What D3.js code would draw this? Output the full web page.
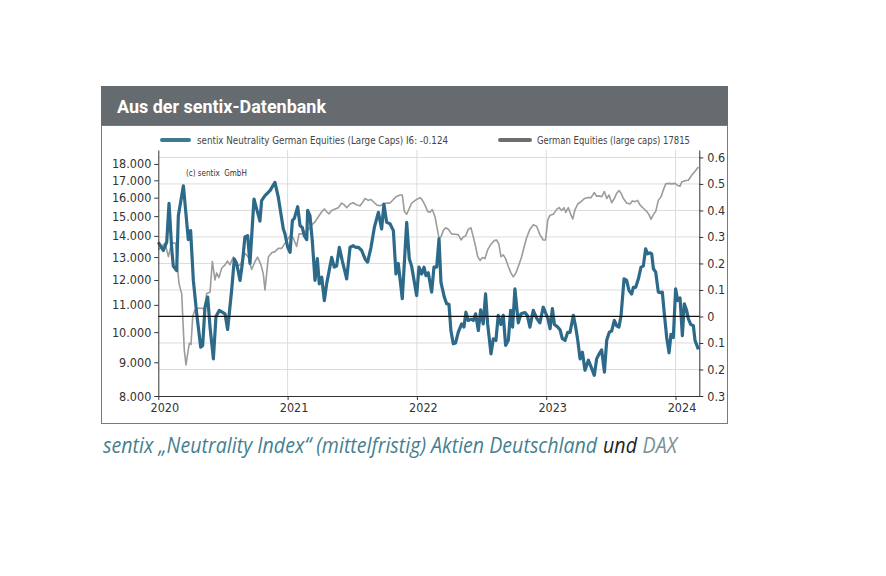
<!DOCTYPE html>
<html><head><meta charset="utf-8">
<script src="https://cdn.jsdelivr.net/npm/d3@7"></script>
<style>html,body{margin:0;padding:0;background:#fff;} svg{display:block}</style>
</head><body><svg id="c" width="886" height="576"></svg>
<script>
// ---------- DATA ----------
const titleText = "Aus der sentix-Datenbank";
const legendLabels = ["sentix Neutrality German Equities (Large Caps) I6: -0.124", "German Equities (large caps) 17815"];
const copyrightText = "(c) sentix  GmbH";
const captionParts = ["sentix \u201ENeutrality Index\u201C (mittelfristig) Aktien Deutschland", "und", "DAX"];
const yearTicks = [2020, 2021, 2022, 2023, 2024];
const leftTicks = [8000, 9000, 10000, 11000, 12000, 13000, 14000, 15000, 16000, 17000, 18000];
const rightTicks = [-0.3, -0.2, -0.1, 0, 0.1, 0.2, 0.3, 0.4, 0.5, 0.6];
const rightTickLabels = ["0.3", "0.2", "0.1", "0", "0.1", "0.2", "0.3", "0.4", "0.5", "0.6"];

// sentix neutrality index (right axis), time in decimal years
const blueT = [2020.000,2020.039,2020.065,2020.083,2020.103,2020.116,2020.142,2020.155,2020.194,2020.219,2020.232,2020.250,2020.271,2020.297,2020.328,2020.343,2020.361,2020.382,2020.400,2020.426,2020.446,2020.472,2020.498,2020.516,2020.536,2020.567,2020.588,2020.606,2020.632,2020.650,2020.670,2020.691,2020.709,2020.740,2020.761,2020.786,2020.799,2020.825,2020.864,2020.902,2020.928,2020.967,2020.980,
2021.001,2021.019,2021.037,2021.052,2021.062,2021.078,2021.096,2021.114,2021.129,2021.148,2021.155,2021.173,2021.191,2021.212,2021.230,2021.245,2021.264,2021.284,2021.302,2021.341,2021.361,2021.379,2021.400,2021.423,2021.457,2021.483,2021.508,2021.526,2021.547,2021.573,2021.599,2021.619,2021.645,2021.671,2021.702,2021.727,2021.745,2021.766,2021.792,2021.818,2021.838,2021.856,2021.887,2021.921,2021.941,2021.959,2021.998,
2022.016,2022.037,2022.055,2022.070,2022.088,2022.114,2022.132,2022.153,2022.171,2022.186,2022.212,2022.230,2022.248,2022.263,2022.281,2022.299,2022.320,2022.346,2022.364,2022.379,2022.397,2022.418,2022.436,2022.454,2022.475,2022.493,2022.513,2022.531,2022.547,2022.573,2022.591,2022.611,2022.629,2022.650,2022.668,2022.686,2022.707,2022.725,2022.740,2022.758,2022.784,2022.805,2022.836,2022.854,2022.874,2022.900,2022.926,2022.951,2022.977,
2023.012,2023.030,2023.048,2023.063,2023.089,2023.107,2023.125,2023.146,2023.166,2023.184,2023.210,2023.228,2023.244,2023.262,2023.280,2023.300,2023.326,2023.347,2023.372,2023.390,2023.411,2023.429,2023.450,2023.468,2023.488,2023.506,2023.527,2023.545,2023.563,2023.579,2023.602,2023.622,2023.640,2023.661,2023.674,2023.692,2023.713,2023.733,2023.751,2023.769,2023.785,2023.803,2023.816,2023.829,2023.847,2023.867,2023.883,2023.898,2023.914,2023.932,2023.950,2023.965,2023.983,
2024.001,2024.017,2024.035,2024.053,2024.068,2024.086,2024.099,2024.117,2024.138,2024.151,2024.177];
const blueV = [0.28,0.249,0.28,0.427,0.26,0.19,0.173,0.38,0.493,0.36,0.29,0.324,0.136,0.011,-0.116,-0.11,0.035,0.073,-0.04,-0.16,0,0.023,0.015,0.01,-0.049,0.098,0.217,0.2,0.136,0.2,0.3,0.305,0.2,0.443,0.405,0.36,0.437,0.456,0.475,0.506,0.45,0.33,0.311,
0.261,0.242,0.362,0.37,0.387,0.414,0.343,0.335,0.305,0.29,0.4,0.38,0.285,0.136,0.218,0.123,0.148,0.06,0.123,0.223,0.186,0.19,0.261,0.21,0.142,0.261,0.267,0.261,0.261,0.249,0.217,0.205,0.261,0.336,0.393,0.33,0.424,0.355,0.35,0.324,0.161,0.2,0.067,0.355,0.218,0.19,0.079,
0.186,0.16,0.186,0.154,0.165,0.092,0.186,0.186,0.293,0.129,0.073,0.048,0.046,-0.053,-0.103,-0.1,-0.059,-0.028,-0.04,0.016,-0.015,-0.01,-0.015,0.01,-0.053,0.025,-0.028,0.085,-0.028,-0.141,-0.084,-0.09,0.004,-0.03,0.004,-0.109,-0.09,0.023,-0.04,0.104,-0.024,0.01,0.015,0.004,-0.04,0.023,-0.006,-0.024,0.035,
-0.006,-0.046,0.03,-0.03,-0.04,-0.05,-0.084,-0.09,-0.06,-0.06,0.004,-0.04,-0.09,-0.16,-0.135,-0.203,-0.165,-0.19,-0.222,-0.16,-0.14,-0.126,-0.21,-0.09,-0.059,-0.055,-0.015,-0.035,-0.04,0.004,0.142,0.136,0.098,0.085,0.11,0.11,0.142,0.186,0.19,0.255,0.236,0.24,0.236,0.18,0.167,0.092,0.09,0.092,0.008,-0.08,-0.137,-0.067,-0.08,
0.104,0.06,0.07,-0.072,0.048,0.023,-0.008,-0.03,-0.035,-0.09,-0.124];

// German equities (DAX), left log axis
const grayT = [2020.000,2020.052,2020.078,2020.103,2020.134,2020.150,2020.160,2020.181,2020.201,2020.214,2020.227,2020.240,2020.253,2020.266,2020.284,2020.310,2020.335,2020.356,2020.374,2020.400,2020.418,2020.438,2020.451,2020.469,2020.490,2020.516,2020.536,2020.554,2020.580,2020.606,2020.632,2020.650,2020.670,2020.696,2020.722,2020.748,2020.768,2020.794,2020.812,2020.825,2020.838,2020.851,2020.877,2020.902,2020.928,2020.954,2020.980,
2021.019,2021.044,2021.070,2021.088,2021.109,2021.135,2021.160,2021.186,2021.212,2021.238,2021.264,2021.284,2021.302,2021.320,2021.341,2021.367,2021.392,2021.418,2021.439,2021.457,2021.483,2021.508,2021.534,2021.560,2021.578,2021.599,2021.624,2021.645,2021.671,2021.689,2021.715,2021.740,2021.766,2021.792,2021.818,2021.843,2021.869,2021.887,2021.903,2021.921,2021.939,2021.959,2021.998,
2022.024,2022.037,2022.062,2022.083,2022.101,2022.119,2022.140,2022.160,2022.171,2022.186,2022.204,2022.222,2022.243,2022.268,2022.294,2022.320,2022.341,2022.359,2022.377,2022.397,2022.418,2022.436,2022.454,2022.470,2022.488,2022.506,2022.526,2022.547,2022.573,2022.598,2022.616,2022.634,2022.650,2022.668,2022.686,2022.707,2022.727,2022.745,2022.766,2022.789,2022.810,2022.830,2022.848,2022.874,2022.900,2022.926,2022.951,2022.977,2022.995,
2023.012,2023.030,2023.055,2023.081,2023.099,2023.120,2023.138,2023.151,2023.171,2023.192,2023.205,2023.223,2023.244,2023.269,2023.295,2023.321,2023.347,2023.372,2023.390,2023.409,2023.429,2023.450,2023.468,2023.486,2023.506,2023.527,2023.545,2023.563,2023.579,2023.597,2023.622,2023.648,2023.666,2023.687,2023.707,2023.725,2023.751,2023.777,2023.795,2023.811,2023.829,2023.847,2023.867,2023.888,2023.906,2023.924,2023.950,2023.970,2023.996,
2024.017,2024.035,2024.048,2024.073,2024.099,2024.125,2024.151,2024.177];
const grayV = [13330,13650,13020,13650,13650,12430,11860,11430,9400,8920,9270,9620,9580,10550,10810,10870,10870,10830,11450,11500,12800,12000,12300,12100,12500,12650,12820,12650,13000,12600,12650,12850,13170,13000,12450,12800,13000,12650,12260,11590,12260,13000,13200,13250,13400,13400,13650,
14000,13900,13490,14100,14100,14210,14300,14550,14700,14970,15230,15380,15230,15120,15300,15380,15450,15700,15600,15450,15650,15720,15600,15550,15720,15950,15850,15900,15720,15600,15550,15650,15700,15700,15900,16070,16150,16150,15250,15100,15380,15700,15900,
16000,15920,15600,15250,15200,15350,14970,14260,13880,13950,14260,14400,14330,14100,14080,14060,13800,13950,14000,14320,14400,13950,13490,13020,12850,12980,12930,13330,13600,13770,13800,13600,13020,13100,12930,12580,12300,12130,12300,12660,13020,13490,13900,14320,14550,14480,14060,13800,13800,
14800,15050,15100,15360,15450,15300,15450,15200,15450,15050,14850,15350,15650,15780,15950,16000,16000,16290,16080,16100,16050,16350,15950,16150,15720,15950,16250,16400,16250,15950,15700,15650,15820,15780,15850,15600,15420,15250,15080,14840,15080,15250,15850,16050,16440,16790,16820,16790,16820,
16700,16650,16900,16980,17000,17300,17550,17815];

// ---------- LAYOUT ----------
const W = 886, H = 576;
const plot = {left: 158.3, right: 699.3, top: 150, bottom: 396};
const FONT = "'Liberation Sans Narrow','DejaVu Sans Condensed',Roboto,sans-serif";
const C = {header: "#656b6e", frame: "#7a7a7a", blue: "#2d6a8a", gray: "#9c9c9c",
           graySw: "#6e6e6e", grid: "#dcdcdc", axis: "#333", text: "#333",
           cap: "#457f8f", capDark: "#222", capGray: "#7b9195"};

const svg = d3.select("#c");
svg.append("rect").attr("width", W).attr("height", H).attr("fill", "#fff");

// header + frame
svg.append("rect").attr("x", 101).attr("y", 86).attr("width", 627).attr("height", 40).attr("fill", C.header);
svg.append("rect").attr("x", 101.5).attr("y", 125.5).attr("width", 626).attr("height", 298)
  .attr("fill", "none").attr("stroke", C.frame).attr("stroke-width", 1);
svg.append("text").attr("x", 117).attr("y", 112.5).text(titleText)
  .attr("font-family", "Roboto,'Open Sans',sans-serif").attr("font-weight", 700)
  .attr("font-size", 18).attr("fill", "#fff")
  .attr("textLength", 209).attr("lengthAdjust", "spacingAndGlyphs");

// scales
const x = d3.scaleLinear().domain([2020, 2024.184]).range([plot.left, plot.right]);
const yL = d3.scaleLog().domain([8000, 18900]).range([plot.bottom, plot.top]);
const yR = d3.scaleLinear().domain([-0.3, 0.628]).range([plot.bottom, plot.top]);

// grid
const g = svg.append("g");
g.selectAll(".hg").data(rightTicks.filter(d => d !== 0 && d !== -0.3)).join("line")
  .attr("x1", plot.left).attr("x2", plot.right)
  .attr("y1", d => yR(d)).attr("y2", d => yR(d))
  .attr("stroke", C.grid).attr("stroke-width", 1);
g.selectAll(".vg").data(yearTicks.slice(1)).join("line")
  .attr("x1", d => x(d)).attr("x2", d => x(d))
  .attr("y1", plot.top).attr("y2", plot.bottom)
  .attr("stroke", C.grid).attr("stroke-width", 1);

// copyright
svg.append("text").attr("x", 186).attr("y", 176).text(copyrightText)
  .attr("font-family", FONT).attr("font-size", 8).attr("fill", C.text).attr("xml:space", "preserve");

// lines
const grayData = grayT.map((t, i) => [t, grayV[i]]);
const blueData = blueT.map((t, i) => [t, blueV[i]]);
svg.append("path").datum(grayData)
  .attr("d", d3.line().x(d => x(d[0])).y(d => yL(d[1])))
  .attr("fill", "none").attr("stroke", C.gray).attr("stroke-width", 1.6).attr("stroke-linejoin", "round");
svg.append("path").datum(blueData)
  .attr("d", d3.line().x(d => x(d[0])).y(d => yR(d[1])))
  .attr("fill", "none").attr("stroke", C.blue).attr("stroke-width", 3.2).attr("stroke-linejoin", "round");

// zero line
svg.append("line").attr("x1", plot.left).attr("x2", plot.right)
  .attr("y1", yR(0)).attr("y2", yR(0)).attr("stroke", "#111").attr("stroke-width", 1.2);

// axes
const de = d3.formatLocale({decimal: ",", thousands: ".", grouping: [3], currency: ["", "\u20AC"]});
function styleAxis(sel) {
  sel.attr("font-family", null).attr("font-size", null);
  sel.selectAll("path,line").attr("stroke", C.axis);
  sel.selectAll("text").attr("font-family", FONT).attr("font-size", 12.5).attr("fill", C.text);
}
svg.append("g").attr("transform", `translate(${plot.left},0)`)
  .call(d3.axisLeft(yL).tickValues(leftTicks).tickFormat(de.format(",")).tickSize(4).tickSizeOuter(0).tickPadding(3))
  .call(styleAxis);
svg.append("g").attr("transform", `translate(${plot.right},0)`)
  .call(d3.axisRight(yR).tickValues(rightTicks).tickFormat((d, i) => rightTickLabels[i]).tickSize(4).tickSizeOuter(0).tickPadding(4))
  .call(styleAxis);
const xa = svg.append("g").attr("transform", `translate(0,${plot.bottom})`)
  .call(d3.axisBottom(x).tickValues(yearTicks).tickFormat(d3.format("d")).tickSize(4).tickSizeOuter(0).tickPadding(3))
  .call(styleAxis);
xa.selectAll(".tick text").attr("dx", 6);

// legend
const lg = svg.append("g");
lg.append("line").attr("x1", 162).attr("x2", 189).attr("y1", 140).attr("y2", 140)
  .attr("stroke", "#3d7a8c").attr("stroke-width", 4).attr("stroke-linecap", "round");
lg.append("text").attr("x", 197).attr("y", 143.5).text(legendLabels[0])
  .attr("font-family", FONT).attr("font-size", 11).attr("fill", "#444")
  .attr("textLength", 251).attr("lengthAdjust", "spacingAndGlyphs");
lg.append("line").attr("x1", 500).attr("x2", 530).attr("y1", 140).attr("y2", 140)
  .attr("stroke", C.graySw).attr("stroke-width", 4).attr("stroke-linecap", "round");
lg.append("text").attr("x", 537).attr("y", 143.5).text(legendLabels[1])
  .attr("font-family", FONT).attr("font-size", 11).attr("fill", "#444")
  .attr("textLength", 153).attr("lengthAdjust", "spacingAndGlyphs");

// caption: three separate texts laid out side by side, then condensed to the target width
const capG = svg.append("g");
const capColors = [C.cap, C.capDark, C.capGray];
let cx = 0;
const gap = 6;
captionParts.forEach((t, i) => {
  const el = capG.append("text").attr("x", cx).attr("y", 0).text(t)
    .attr("font-family", "'Open Sans',Roboto,sans-serif").attr("font-style", "italic")
    .attr("font-weight", 400).attr("font-size", 21).attr("fill", capColors[i]);
  cx += el.node().getComputedTextLength() + (i < captionParts.length - 1 ? gap : 0);
});
const sx = 574 / cx;
capG.attr("transform", `translate(103,453) scale(${sx},1)`);
</script></body></html>
